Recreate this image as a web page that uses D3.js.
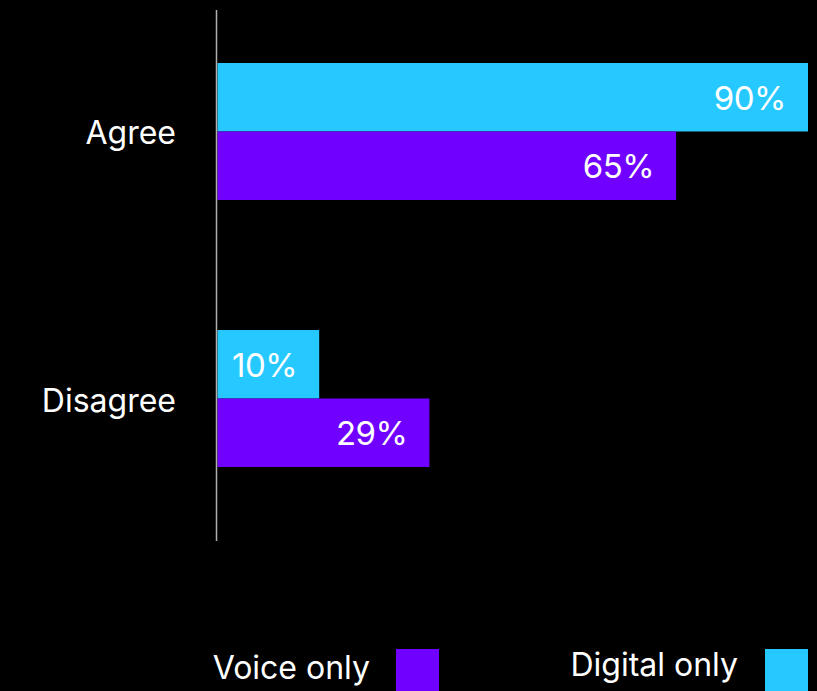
<!DOCTYPE html>
<html>
<head>
<meta charset="utf-8">
<script src="https://cdn.jsdelivr.net/npm/d3@7"></script>
<style>
  html, body { margin: 0; padding: 0; background: #000; }
  svg { display: block; }
  text { font-family: "Inter", "Lato", sans-serif; fill: #fff; }
</style>
</head>
<body>
<svg id="chart" width="817" height="691"></svg>
<script>
const categories = ["Agree", "Disagree"];
const seriesNames = ["Digital only", "Voice only"];
const seriesColors = ["#26c9ff", "#7000ff"];
// bar lengths as drawn (percent scale)
const digitalValues = [90, 15.5];
const voiceValues = [69.9, 32.3];
// printed labels
const digitalLabels = ["90%", "10%"];
const voiceLabels = ["65%", "29%"];

const svg = d3.select("#chart");
const W = 817, H = 691;
svg.append("rect").attr("width", W).attr("height", H).attr("fill", "#000");

const x0 = 217.5;
const x = d3.scaleLinear().domain([0, 90]).range([x0, 808]);

const y = d3.scaleBand().domain(categories).range([10, 520]).paddingInner(0.487).paddingOuter(0.1985);
const ySub = d3.scaleBand().domain(seriesNames).range([0, y.bandwidth()]);

const data = [];
categories.forEach((c, i) => {
  data.push({cat: c, s: seriesNames[0], v: digitalValues[i], label: digitalLabels[i], color: seriesColors[0]});
  data.push({cat: c, s: seriesNames[1], v: voiceValues[i], label: voiceLabels[i], color: seriesColors[1]});
});

const g = svg.append("g");
g.selectAll("rect.bar").data(data).enter().append("rect")
  .attr("class", "bar")
  .attr("x", x(0))
  .attr("y", d => y(d.cat) + ySub(d.s))
  .attr("width", d => x(d.v) - x(0))
  .attr("height", ySub.bandwidth())
  .attr("fill", d => d.color);

g.selectAll("text.val").data(data).enter().append("text")
  .attr("class", "val")
  .attr("x", d => x(d.v) - 22)
  .attr("y", d => y(d.cat) + ySub(d.s) + ySub.bandwidth() / 2 + 12.5)
  .attr("text-anchor", "end")
  .attr("font-size", 33)
  .attr("letter-spacing", -0.5)
  .text(d => d.label);

// axis line
svg.append("line")
  .attr("x1", 216.5).attr("x2", 216.5)
  .attr("y1", 10).attr("y2", 541)
  .attr("stroke", "#b0b0b0").attr("stroke-width", 1.5);

// category labels
svg.selectAll("text.cat").data(categories).enter().append("text")
  .attr("class", "cat")
  .attr("x", 176)
  .attr("y", d => y(d) + y.bandwidth() / 2 + 13)
  .attr("text-anchor", "end")
  .attr("font-size", 32)
  .text(d => d);

// legend
const legend = [
  {name: "Voice only", color: seriesColors[1], textEnd: 370, base: 679, sq: 396},
  {name: "Digital only", color: seriesColors[0], textEnd: 738, base: 676, sq: 765}
];
const lg = svg.selectAll("g.lg").data(legend).enter().append("g").attr("class", "lg");
lg.append("text")
  .attr("x", d => d.textEnd).attr("y", d => d.base)
  .attr("text-anchor", "end").attr("font-size", 32)
  .text(d => d.name);
lg.append("rect")
  .attr("x", d => d.sq).attr("y", 649)
  .attr("width", 43).attr("height", 43)
  .attr("fill", d => d.color);
</script>
</body>
</html>
